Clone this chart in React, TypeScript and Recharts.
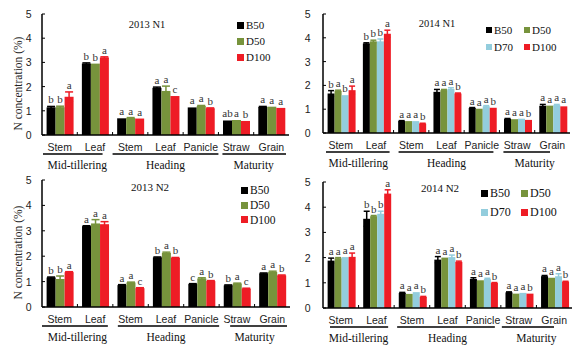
import React from 'react';
import { BarChart, Bar, XAxis, YAxis, ErrorBar, LabelList, Label } from 'recharts';

const SERIF = "'Liberation Serif', 'Times New Roman', serif";
const SANS = "'Liberation Sans', Arial, sans-serif";

const categories = ['Stem', 'Leaf', 'Stem', 'Leaf', 'Panicle', 'Straw', 'Grain'];
const stages = [
  { name: 'Mid-tillering', first: 0, count: 2 },
  { name: 'Heading', first: 2, count: 3 },
  { name: 'Maturity', first: 5, count: 2 },
];
const yTicks = [0, 1, 2, 3, 4, 5];

const colors: Record<string, string> = {
  B50: '#000000',
  D50: '#77933C',
  D70: '#93CDDD',
  D100: '#EE1C25',
};

// 2013 N1
const n1_2013_B50 = [1.14, 2.95, 0.69, 1.95, 1.14, 0.6, 1.16];
const n1_2013_D50 = [1.15, 2.95, 0.7, 1.82, 1.2, 0.62, 1.17];
const n1_2013_D100 = [1.58, 3.2, 0.68, 1.61, 1.1, 0.58, 1.12];
const n1_2013_errB50 = [0.04, 0.03, 0, 0.03, 0, 0, 0.02];
const n1_2013_errD50 = [0.04, 0, 0.02, 0.2, 0.02, 0, 0];
const n1_2013_errD100 = [0.2, 0.03, 0, 0, 0.02, 0, 0];
const n1_2013_letB50 = ['b', 'b', 'a', 'a', 'a', 'ab', 'a'];
const n1_2013_letD50 = ['b', 'b', 'a', 'a', 'a', 'a', 'a'];
const n1_2013_letD100 = ['a', 'a', 'a', 'c', 'b', 'b', 'a'];

// 2014 N1
const n1_2014_B50 = [1.66, 3.76, 0.5, 1.73, 1.05, 0.59, 1.15];
const n1_2014_D50 = [1.77, 3.85, 0.5, 1.8, 1.02, 0.58, 1.15];
const n1_2014_D70 = [1.59, 3.85, 0.5, 1.85, 1.12, 0.6, 1.17];
const n1_2014_D100 = [1.8, 4.17, 0.39, 1.66, 1.06, 0.55, 1.12];
const n1_2014_errB50 = [0.12, 0.03, 0.02, 0.1, 0.02, 0.02, 0.05];
const n1_2014_errD50 = [0.03, 0.05, 0, 0.03, 0, 0, 0];
const n1_2014_errD70 = [0, 0.1, 0, 0.05, 0.03, 0, 0.03];
const n1_2014_errD100 = [0.17, 0.15, 0.02, 0.02, 0, 0, 0];
const n1_2014_letB50 = ['b', 'b', 'a', 'a', 'a', 'a', 'a'];
const n1_2014_letD50 = ['a', 'b', 'a', 'a', 'a', 'a', 'a'];
const n1_2014_letD70 = ['b', 'b', 'a', 'a', 'a', 'a', 'a'];
const n1_2014_letD100 = ['a', 'a', 'b', 'b', 'b', 'b', 'a'];

// 2013 N2
const n2_2013_B50 = [1.16, 3.18, 0.86, 1.95, 0.9, 0.85, 1.32];
const n2_2013_D50 = [1.1, 3.29, 0.96, 2.13, 1.12, 0.92, 1.38];
const n2_2013_D100 = [1.37, 3.26, 0.74, 1.93, 1.02, 0.72, 1.24];
const n2_2013_errB50 = [0.02, 0.02, 0.02, 0.02, 0.02, 0.02, 0.02];
const n2_2013_errD50 = [0.12, 0.15, 0.02, 0.03, 0.03, 0.02, 0.03];
const n2_2013_errD100 = [0.02, 0.1, 0.02, 0.02, 0.02, 0.02, 0.02];
const n2_2013_letB50 = ['b', 'a', 'a', 'b', 'c', 'b', 'a'];
const n2_2013_letD50 = ['b', 'a', 'a', 'a', 'a', 'a', 'a'];
const n2_2013_letD100 = ['a', 'a', 'c', 'b', 'b', 'c', 'b'];

// 2014 N2
const n2_2014_B50 = [1.88, 3.54, 0.6, 1.92, 1.15, 0.62, 1.26];
const n2_2014_D50 = [1.97, 3.64, 0.56, 2.0, 1.1, 0.57, 1.2];
const n2_2014_D70 = [2.02, 3.74, 0.63, 2.02, 1.15, 0.6, 1.26];
const n2_2014_D100 = [2.03, 4.54, 0.44, 1.83, 0.99, 0.57, 1.04];
const n2_2014_errB50 = [0.1, 0.3, 0.02, 0.12, 0.05, 0.02, 0.03];
const n2_2014_errD50 = [0.03, 0.03, 0, 0, 0, 0, 0];
const n2_2014_errD70 = [0, 0.1, 0, 0.08, 0.03, 0, 0.1];
const n2_2014_errD100 = [0.15, 0.15, 0.02, 0.03, 0.02, 0, 0.02];
const n2_2014_letB50 = ['a', 'b', 'a', 'a', 'a', 'a', 'a'];
const n2_2014_letD50 = ['a', 'b', 'a', 'a', 'a', 'a', 'a'];
const n2_2014_letD70 = ['a', 'b', 'a', 'a', 'a', 'a', 'a'];
const n2_2014_letD100 = ['a', 'a', 'b', 'b', 'b', 'b', 'b'];

type Series = { key: string; values: number[]; errors: number[]; letters: string[] };

const panels = [
  {
    title: '2013 N1', left: 0, top: 0, width: 290, height: 175,
    margin: { top: 14, right: 1, left: 0, bottom: 0 }, yWidth: 42, xHeight: 40,
    yTitle: true, tickGap: 10.5, titlePos: { x: 147, y: 25, size: 10.5 },
    lines: [[1, -10], [0, 0], [4, -3]],
    legend: { left: 237, top: 17, rowH: 16, cols: 1, colW: 40, size: 11, sq: 7 },
    series: [
      { key: 'B50', values: n1_2013_B50, errors: n1_2013_errB50, letters: n1_2013_letB50 },
      { key: 'D50', values: n1_2013_D50, errors: n1_2013_errD50, letters: n1_2013_letD50 },
      { key: 'D100', values: n1_2013_D100, errors: n1_2013_errD100, letters: n1_2013_letD100 },
    ] as Series[],
  },
  {
    title: '2014 N1', left: 290, top: 0, width: 289, height: 175,
    margin: { top: 14, right: 9, left: 0, bottom: 0 }, yWidth: 33, xHeight: 42,
    yTitle: false, tickGap: 12.5, titlePos: { x: 147, y: 24, size: 10.5 },
    lines: [[3, -4], [5, -6], [4, -20]],
    legend: { left: 196, top: 21, rowH: 17.5, cols: 2, colW: 38, size: 11, sq: 6 },
    series: [
      { key: 'B50', values: n1_2014_B50, errors: n1_2014_errB50, letters: n1_2014_letB50 },
      { key: 'D50', values: n1_2014_D50, errors: n1_2014_errD50, letters: n1_2014_letD50 },
      { key: 'D70', values: n1_2014_D70, errors: n1_2014_errD70, letters: n1_2014_letD70 },
      { key: 'D100', values: n1_2014_D100, errors: n1_2014_errD100, letters: n1_2014_letD100 },
    ] as Series[],
  },
  {
    title: '2013 N2', left: 0, top: 170, width: 290, height: 178,
    margin: { top: 10, right: 0, left: 0, bottom: 0 }, yWidth: 42, xHeight: 41,
    yTitle: true, tickGap: 10.5, titlePos: { x: 150, y: 17, size: 11 },
    lines: [[0, -5], [5, 0], [11, -3]],
    legend: { left: 241, top: 13, rowH: 14.7, cols: 1, colW: 40, size: 11.5, sq: 7 },
    series: [
      { key: 'B50', values: n2_2013_B50, errors: n2_2013_errB50, letters: n2_2013_letB50 },
      { key: 'D50', values: n2_2013_D50, errors: n2_2013_errD50, letters: n2_2013_letD50 },
      { key: 'D100', values: n2_2013_D100, errors: n2_2013_errD100, letters: n2_2013_letD100 },
    ] as Series[],
  },
  {
    title: '2014 N2', left: 290, top: 170, width: 289, height: 178,
    margin: { top: 12, right: 7, left: 0, bottom: 0 }, yWidth: 33, xHeight: 40,
    yTitle: false, tickGap: 12.5, titlePos: { x: 150, y: 18, size: 11 },
    lines: [[7, -6], [3, -6], [1, -18]],
    legend: { left: 191, top: 14, rowH: 19.3, cols: 2, colW: 40, size: 12, sq: 7 },
    series: [
      { key: 'B50', values: n2_2014_B50, errors: n2_2014_errB50, letters: n2_2014_letB50 },
      { key: 'D50', values: n2_2014_D50, errors: n2_2014_errD50, letters: n2_2014_letD50 },
      { key: 'D70', values: n2_2014_D70, errors: n2_2014_errD70, letters: n2_2014_letD70 },
      { key: 'D100', values: n2_2014_D100, errors: n2_2014_errD100, letters: n2_2014_letD100 },
    ] as Series[],
  },
];

type PanelCfg = (typeof panels)[number];

const Panel = ({ cfg }: { cfg: PanelCfg }) => {
  const { margin, yWidth, xHeight, width, height, series } = cfg;
  const plotW = width - margin.left - margin.right - yWidth;
  const plotH = height - margin.top - xHeight;
  const band = plotW / categories.length;
  const unit = plotH / 5;

  const rows = categories.map((c, i) => {
    const row: any = { id: `c${i}`, name: c };
    series.forEach((s) => {
      row[s.key] = s.values[i];
      row['e' + s.key] = s.errors[i];
      row['l' + s.key] = s.letters[i];
    });
    return row;
  });

  const capW = series.length > 3 ? 3 : 4;

  const xTick = (p: any) => {
    const i = parseInt(String(p.payload.value).slice(1), 10);
    const { x, y } = p;
    const stage = stages.find((s) => s.first === i);
    const si = stages.indexOf(stage as any);
    return (
      <g>
        <text x={x} y={y + 12} textAnchor="middle" dominantBaseline="central"
          fontFamily={SANS} fontSize={10.5} fill="#222">{categories[i]}</text>
        {i < categories.length - 1 && (
          <line x1={x + band / 2} x2={x + band / 2} y1={y} y2={y - 3} stroke="#000" strokeWidth={1} />
        )}
        {stage && (
          <g>
            <line
              x1={x - band / 2 + cfg.lines[si][0]}
              x2={x + (stage.count - 0.5) * band + cfg.lines[si][1]}
              y1={y + 19} y2={y + 19} stroke="#000" strokeWidth={1.3} />
            <text x={x + ((stage.count - 1) * band) / 2} y={y + 29.5} textAnchor="middle"
              dominantBaseline="central" fontFamily={SERIF} fontSize={11.5} fill="#111">{stage.name}</text>
          </g>
        )}
      </g>
    );
  };

  const yTick = (p: any) => (
    <g>
      <line x1={p.x} x2={p.x + 3} y1={p.y} y2={p.y} stroke="#000" strokeWidth={1} />
      <text x={p.x - cfg.tickGap} y={p.y} textAnchor="end" dominantBaseline="central"
        fontFamily={SANS} fontSize={10.5} fill="#222">{p.payload.value}</text>
    </g>
  );

  const letter = (s: Series) => (p: any) => {
    const err = s.errors[p.index] || 0;
    const top = p.y - err * unit;
    return (
      <text x={p.x + p.width / 2} y={top - 3} textAnchor="middle" fontFamily={SERIF}
        fontSize={11} fill="#333">{p.value}</text>
    );
  };

  const lg = cfg.legend;

  return (
    <div style={{ position: 'absolute', left: cfg.left, top: cfg.top, width, height }}>
      <BarChart width={width} height={height} data={rows} margin={margin}
        barCategoryGap="13%" barGap={0}>
        <XAxis dataKey="id" height={xHeight} interval={0} tickSize={0} tickMargin={0}
          tickLine={false} axisLine={{ stroke: '#000', strokeWidth: 1.5 }} tick={xTick} />
        <YAxis width={yWidth} domain={[0, 5]} ticks={yTicks} interval={0} tickSize={0}
          tickMargin={0} tickLine={false} axisLine={{ stroke: '#000', strokeWidth: 1.5 }}
          tick={yTick}>
          {cfg.yTitle && (
            <Label content={(p: any) => {
              const vb = p.viewBox;
              const cx = vb.x + 18;
              const cy = vb.y + vb.height / 2 + 9;
              return (
                <text x={cx} y={cy} transform={`rotate(-90 ${cx} ${cy})`} textAnchor="middle"
                  dominantBaseline="central" fontFamily={SERIF} fontSize={11.5} fill="#222">
                  N concentration (%)
                </text>
              );
            }} />
          )}
        </YAxis>
        {series.map((s) => (
          <Bar key={s.key} dataKey={s.key} fill={colors[s.key]} isAnimationActive={false}>
            <ErrorBar dataKey={'e' + s.key} width={capW} stroke={colors[s.key]} strokeWidth={1.5} />
            <LabelList dataKey={'l' + s.key} content={letter(s)} />
          </Bar>
        ))}
      </BarChart>
      <div style={{
        position: 'absolute', left: cfg.titlePos.x - 40, width: 80, top: cfg.titlePos.y - 7,
        height: 14, lineHeight: '14px', textAlign: 'center', fontFamily: SERIF,
        fontSize: cfg.titlePos.size, color: '#111',
      }}>{cfg.title}</div>
      <div style={{
        position: 'absolute', left: lg.left, top: lg.top, display: 'grid',
        gridTemplateColumns: `repeat(${lg.cols}, ${lg.colW}px)`,
      }}>
        {series.map((s) => (
          <div key={s.key} style={{ display: 'flex', alignItems: 'center', height: lg.rowH }}>
            <span style={{ width: lg.sq, height: lg.sq, background: colors[s.key], marginRight: 2, flex: 'none' }} />
            <span style={{ fontFamily: SERIF, fontSize: lg.size, color: '#111' }}>{s.key}</span>
          </div>
        ))}
      </div>
    </div>
  );
};

export default function App() {
  return (
    <div style={{ position: 'absolute', left: 0, top: 0, width: 579, height: 348, background: '#fff', overflow: 'hidden' }}>
      {panels.map((p) => (
        <Panel key={p.title} cfg={p} />
      ))}
    </div>
  );
}
